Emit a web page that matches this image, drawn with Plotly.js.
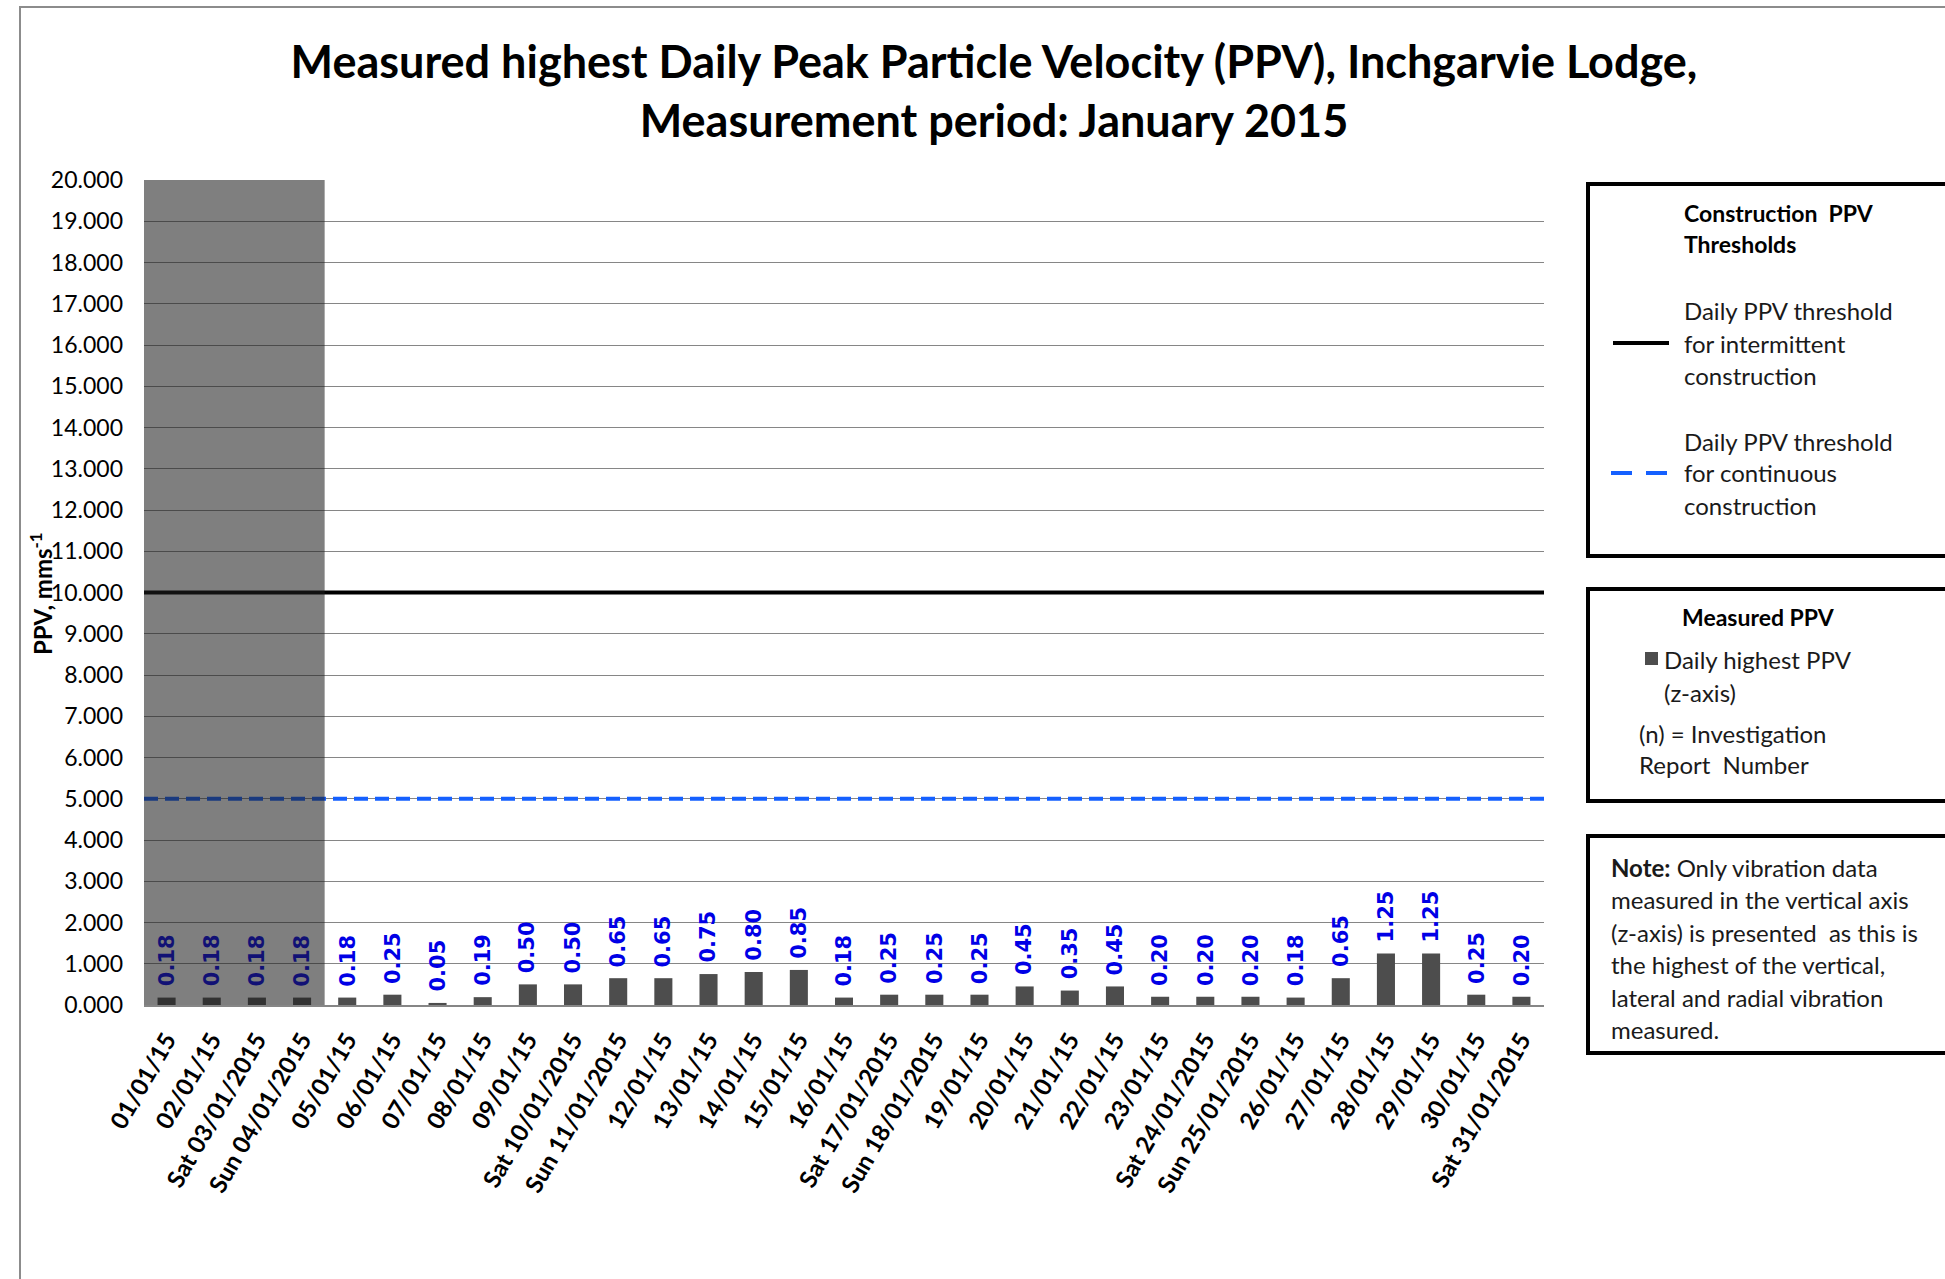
<!DOCTYPE html>
<html>
<head>
<meta charset="utf-8">
<script src="https://cdn.plot.ly/plotly-3.0.1.min.js"></script>
<style>html,body{margin:0;padding:0;background:#fff;}#chart{width:1945px;height:1279px;}</style>
</head>
<body>
<div id="chart"></div>
<script>
// ---- data ----
const categories = ['01/01/15','02/01/15','Sat 03/01/2015','Sun 04/01/2015','05/01/15','06/01/15','07/01/15','08/01/15','09/01/15','Sat 10/01/2015','Sun 11/01/2015','12/01/15','13/01/15','14/01/15','15/01/15','16/01/15','Sat 17/01/2015','Sun 18/01/2015','19/01/15','20/01/15','21/01/15','22/01/15','23/01/15','Sat 24/01/2015','Sun 25/01/2015','26/01/15','27/01/15','28/01/15','29/01/15','30/01/15','Sat 31/01/2015'];
const dailyHighestPPV = [0.18,0.18,0.18,0.18,0.18,0.25,0.05,0.19,0.50,0.50,0.65,0.65,0.75,0.80,0.85,0.18,0.25,0.25,0.25,0.45,0.35,0.45,0.20,0.20,0.20,0.18,0.65,1.25,1.25,0.25,0.20];
const thresholdIntermittent = [10];
const thresholdContinuous = [5];
const shadedDays = ['01/01/15','Sun 04/01/2015'];
const yRange = [0, 20];

// ---- layout helpers (pixel -> paper) ----
const W = 1945, H = 1279;
const L = 144, R = 1544, T = 180, B = 1005;
const px = x => (x - L) / (R - L);
const py = y => (B - y) / (B - T);

const FONT = 'Lato, "Open Sans", sans-serif';
const blue = '#0000e6';
const blueUnderShade = 'rgb(17,17,117)';   // label colour seen through the grey overlay

const bars = {
  type: 'bar',
  x: categories,
  y: dailyHighestPPV,
  width: 0.4,
  marker: {color: '#4d4d4d'},
  hoverinfo: 'x+y',
  showlegend: false
};

const i0 = categories.indexOf(shadedDays[0]);
const i1 = categories.indexOf(shadedDays[1]);

const shapes = [];
// outer chart border
shapes.push({type: 'rect', xref: 'paper', yref: 'paper', x0: px(20), x1: px(2050), y0: py(7), y1: py(1400),
  line: {color: '#8c8c8c', width: 2}, fillcolor: 'rgba(0,0,0,0)', layer: 'below'});
// thresholds
thresholdIntermittent.forEach(t => shapes.push({type: 'line', xref: 'paper', yref: 'y', x0: 0, x1: 1, y0: t, y1: t,
  line: {color: '#000000', width: 4}, layer: 'above'}));
thresholdContinuous.forEach(t => shapes.push({type: 'line', xref: 'paper', yref: 'y', x0: 0, x1: 1, y0: t, y1: t,
  line: {color: '#1560ff', width: 4, dash: '14px,7px'}, layer: 'above'}));
// shaded overlay
shapes.push({type: 'rect', xref: 'x', yref: 'y', x0: i0 - 0.5, x1: i1 + 0.5, y0: yRange[0], y1: yRange[1],
  fillcolor: 'rgba(30,30,30,0.567)', line: {width: 0}, layer: 'above'});
// legend boxes
const boxLine = {color: '#000000', width: 4};
shapes.push({type: 'rect', xref: 'paper', yref: 'paper', x0: px(1588), x1: px(2000), y0: py(184), y1: py(556), line: boxLine, fillcolor: 'rgba(0,0,0,0)'});
shapes.push({type: 'rect', xref: 'paper', yref: 'paper', x0: px(1588), x1: px(2000), y0: py(589), y1: py(801), line: boxLine, fillcolor: 'rgba(0,0,0,0)'});
shapes.push({type: 'rect', xref: 'paper', yref: 'paper', x0: px(1588), x1: px(2000), y0: py(836), y1: py(1053), line: boxLine, fillcolor: 'rgba(0,0,0,0)'});
// legend samples
shapes.push({type: 'line', xref: 'paper', yref: 'paper', x0: px(1613), x1: px(1669), y0: py(343), y1: py(343), line: {color: '#000', width: 4}});
shapes.push({type: 'line', xref: 'paper', yref: 'paper', x0: px(1611), x1: px(1667), y0: py(473), y1: py(473), line: {color: '#1560ff', width: 4, dash: '21px,14px'}});
shapes.push({type: 'rect', xref: 'paper', yref: 'paper', x0: px(1645), x1: px(1658), y0: py(652), y1: py(665), line: {width: 0}, fillcolor: '#4d4d4d'});

const txt = (x, y, text, opts = {}) => Object.assign({
  xref: 'paper', yref: 'paper', x: px(x), y: py(y), text: text, showarrow: false,
  xanchor: 'left', yanchor: 'middle', align: 'left',
  font: {family: FONT, size: 24, color: '#1a1a1a'}
}, opts);
const boldFont = {family: FONT, size: 23, color: '#000', weight: 'bold'};

// value labels above bars
const valueLabels = categories.map((c, i) => ({
  xref: 'x', yref: 'y', x: c, y: dailyHighestPPV[i],
  text: dailyHighestPPV[i].toFixed(2), textangle: -90, showarrow: false,
  xanchor: 'center', yanchor: 'bottom', yshift: 9,
  font: {family: '"DejaVu Sans", Verdana, sans-serif', size: 21, weight: 'bold',
         color: (i >= i0 && i <= i1) ? blueUnderShade : blue}
}));

const annotations = [
  // y-axis title
  {xref: 'paper', yref: 'paper', x: px(41), y: py(594), text: 'PPV, mms<sup>-1</sup>', textangle: -90, showarrow: false,
   xanchor: 'center', yanchor: 'middle', font: {family: FONT, size: 24, color: '#000', weight: 'bold'}},
  txt(1682, 213, 'Construction  PPV', {font: boldFont}),
  txt(1682, 244, 'Thresholds', {font: boldFont}),
  txt(1682, 310, 'Daily PPV threshold'),
  txt(1682, 343, 'for intermittent'),
  txt(1682, 375, 'construction'),
  txt(1682, 441, 'Daily PPV threshold'),
  txt(1682, 473, 'for continuous'),
  txt(1682, 505, 'construction'),
  txt(1758, 617, 'Measured PPV', {xanchor: 'center', font: boldFont}),
  txt(1662, 659, 'Daily highest PPV'),
  txt(1662, 692, '(z-axis)'),
  txt(1637, 733, '(n) = Investigation'),
  txt(1637, 764, 'Report  Number'),
  txt(1609, 867, '<b>Note:</b> Only vibration data'),
  txt(1609, 899, 'measured in the vertical axis'),
  txt(1609, 932, '(z-axis) is presented  as this is'),
  txt(1609, 964, 'the highest of the vertical,'),
  txt(1609, 997, 'lateral and radial vibration'),
  txt(1609, 1029, 'measured.')
].concat(valueLabels);

const layout = {
  width: W, height: H,
  paper_bgcolor: '#ffffff', plot_bgcolor: '#ffffff',
  margin: {l: L, r: W - R, t: T, b: H - B, pad: 0},
  title: {
    text: 'Measured highest Daily Peak Particle Velocity (PPV), Inchgarvie Lodge,<br>Measurement period: January 2015',
    x: 994 / W, xref: 'container', xanchor: 'center',
    y: 1 - 78 / H, yref: 'container', yanchor: 'middle',
    font: {family: FONT, size: 45, color: '#000', weight: 'bold'}
  },
  xaxis: {
    type: 'category',
    tickangle: -60,
    tickfont: {family: FONT, size: 24, color: '#000', weight: 'bold'},
    showline: true, linecolor: '#868686', linewidth: 1.5,
    ticks: '', showgrid: false,
    ticklabelstandoff: 10,
    fixedrange: true
  },
  yaxis: {
    range: yRange,
    dtick: 1,
    tickformat: '.3f',
    tickfont: {family: FONT, size: 23, color: '#000'},
    showgrid: true, gridcolor: '#868686', gridwidth: 1,
    zeroline: false, showline: false,
    ticks: '', ticklabelstandoff: 20,
    fixedrange: true
  },
  shapes: shapes,
  annotations: annotations,
  showlegend: false
};

Plotly.newPlot('chart', [bars], layout, {displayModeBar: false, staticPlot: true});
</script>
</body>
</html>
